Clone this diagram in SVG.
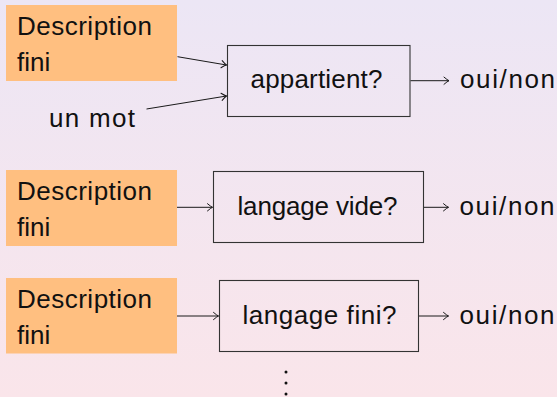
<svg xmlns="http://www.w3.org/2000/svg" width="557" height="397" viewBox="0 0 557 397">
  <defs>
    <linearGradient id="bg" x1="0" y1="0" x2="0" y2="1">
      <stop offset="0" stop-color="#ece6f5"/>
      <stop offset="1" stop-color="#fae5ea"/>
    </linearGradient>
    <marker id="arr" markerWidth="10" markerHeight="10" refX="0" refY="0" viewBox="-6 -5 8 10" markerUnits="userSpaceOnUse" orient="auto">
      <path d="M-5,-3.6 Q-1.5,-0.6 0,0 Q-1.5,0.6 -5,3.6" fill="none" stroke="#1a1a1a" stroke-width="1" stroke-linecap="round"/>
    </marker>
  </defs>
  <style>
    text { font-family: "Liberation Sans", Arial, sans-serif; font-size: 26px; fill: #111; }
    .input { fill: #ffbf80; }
    .proc { fill: none; stroke: #333; stroke-width: 1.1; }
    .conn { fill: none; stroke: #1a1a1a; stroke-width: 1; marker-end: url(#arr); }
  </style>
  <rect width="557" height="397" fill="url(#bg)"/>

  <!-- row 1: membership -->
  <g id="desc1">
    <rect class="input" x="6" y="5" width="171" height="76"/>
    <text x="17" y="35" textLength="135" lengthAdjust="spacing">Description</text>
    <text x="17" y="71">fini</text>
  </g>
  <g id="word">
    <text x="49" y="127" textLength="86" lengthAdjust="spacing">un mot</text>
  </g>
  <g id="appartient">
    <rect class="proc" x="227.5" y="45.5" width="182.5" height="71"/>
    <text x="250.5" y="88" textLength="132" lengthAdjust="spacing">appartient?</text>
  </g>
  <g id="out1">
    <text x="460" y="88" textLength="95" lengthAdjust="spacing">oui/non</text>
  </g>

  <!-- row 2: emptiness -->
  <g id="desc2">
    <rect class="input" x="6" y="170" width="171" height="76"/>
    <text x="17" y="200" textLength="135" lengthAdjust="spacing">Description</text>
    <text x="17" y="236">fini</text>
  </g>
  <g id="vide">
    <rect class="proc" x="213.5" y="171.5" width="210" height="71"/>
    <text x="237.5" y="215" textLength="160" lengthAdjust="spacing">langage vide?</text>
  </g>
  <g id="out2">
    <text x="459.5" y="215" textLength="95" lengthAdjust="spacing">oui/non</text>
  </g>

  <!-- row 3: finiteness -->
  <g id="desc3">
    <rect class="input" x="6" y="278" width="171" height="75.5"/>
    <text x="17" y="308" textLength="135" lengthAdjust="spacing">Description</text>
    <text x="17" y="344">fini</text>
  </g>
  <g id="fini">
    <rect class="proc" x="219.5" y="280.5" width="199" height="71"/>
    <text x="242.5" y="324" textLength="154" lengthAdjust="spacing">langage fini?</text>
  </g>
  <g id="out3">
    <text x="459.5" y="324" textLength="95" lengthAdjust="spacing">oui/non</text>
  </g>

  <!-- continuation dots -->
  <g id="more" fill="#111">
    <circle cx="286" cy="372" r="1.5"/>
    <circle cx="286" cy="383" r="1.5"/>
    <circle cx="286" cy="394" r="1.5"/>
  </g>

  <g id="connectors">
    <line class="conn" x1="177.5" y1="56.7" x2="226.5" y2="65"/>
    <line class="conn" x1="146.5" y1="109" x2="226.5" y2="96"/>
    <line class="conn" x1="410.5" y1="80.7" x2="449" y2="80.7"/>
    <line class="conn" x1="177" y1="207.3" x2="212.5" y2="207.3"/>
    <line class="conn" x1="424" y1="207.3" x2="448.5" y2="207.3"/>
    <line class="conn" x1="177" y1="316" x2="218.5" y2="316"/>
    <line class="conn" x1="419" y1="316" x2="448.5" y2="316"/>
  </g>
</svg>
